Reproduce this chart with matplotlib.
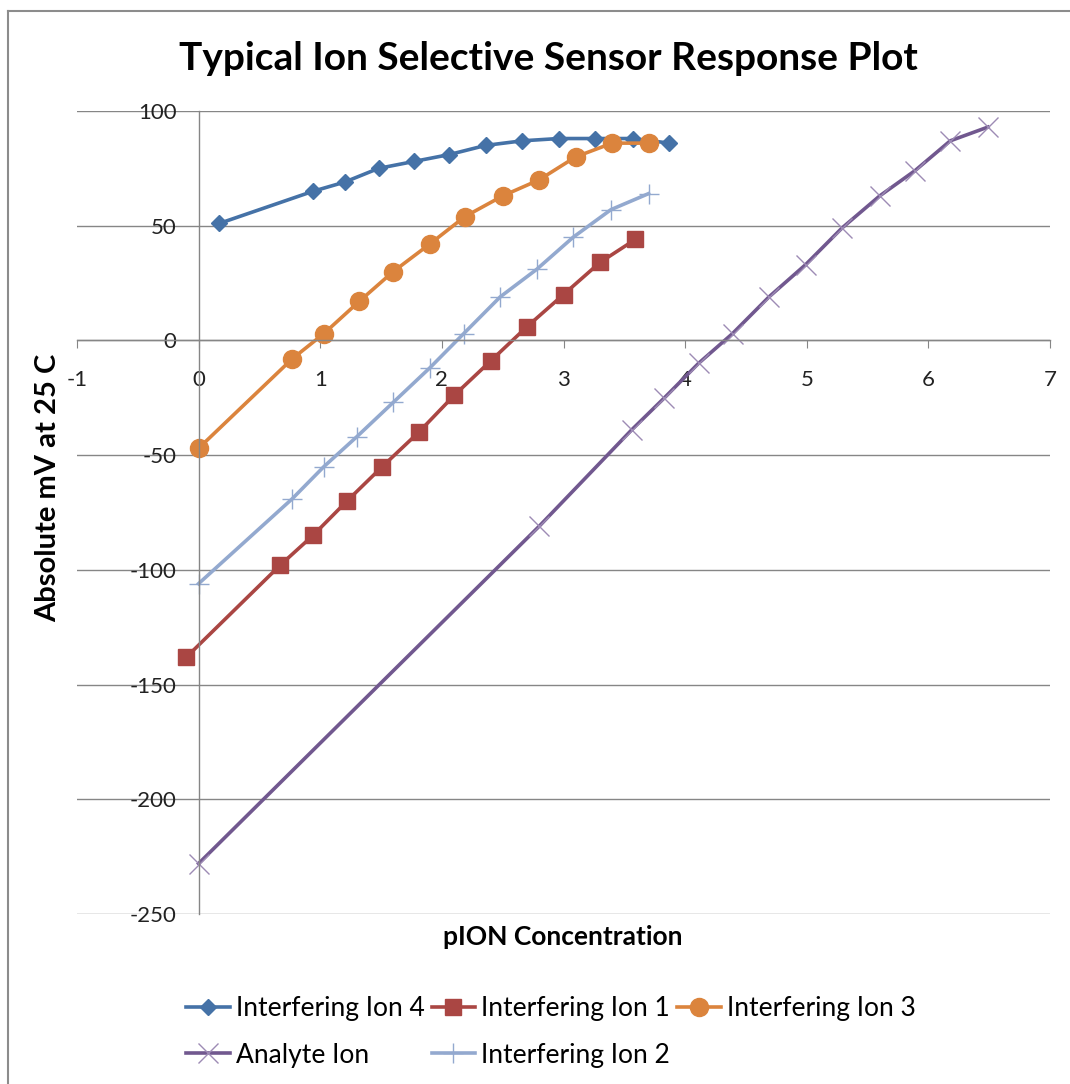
import matplotlib.pyplot as plt
import matplotlib.lines as mlines

plt.rcParams["font.family"] = ["Lato", "DejaVu Sans"]
plt.rcParams["axes.unicode_minus"] = False

# Data (pION, mV)
ion4_x = [0.17, 0.94, 1.20, 1.48, 1.77, 2.06, 2.36, 2.66, 2.96, 3.26, 3.57, 3.87]
ion4_y = [51, 65, 69, 75, 78, 81, 85, 87, 88, 88, 88, 86]

ion1_x = [-0.10, 0.67, 0.94, 1.22, 1.51, 1.81, 2.10, 2.40, 2.70, 3.00, 3.30, 3.59]
ion1_y = [-138, -98, -85, -70, -55, -40, -24, -9, 6, 20, 34, 44]

ion3_x = [0.0, 0.77, 1.03, 1.32, 1.60, 1.90, 2.19, 2.50, 2.80, 3.10, 3.40, 3.70]
ion3_y = [-47, -8, 3, 17, 30, 42, 54, 63, 70, 80, 86, 86]

analyte_x = [0.0, 2.80, 3.56, 3.83, 4.11, 4.39, 4.69, 4.99, 5.29, 5.60, 5.89, 6.18, 6.49]
analyte_y = [-228, -81, -39, -25, -10, 3, 19, 33, 49, 63, 74, 87, 93]

ion2_x = [0.0, 0.77, 1.03, 1.30, 1.60, 1.90, 2.18, 2.48, 2.78, 3.08, 3.39, 3.70]
ion2_y = [-106, -69, -55, -42, -27, -12, 3, 19, 31, 45, 57, 64]

x_ticks = [-1, 0, 1, 2, 3, 4, 5, 6, 7]
y_ticks = [100, 50, 0, -50, -100, -150, -200, -250]

GRID_GRAY = "#868686"


def plot_response():
    fig = plt.figure(figsize=(10.7, 10.84), dpi=100)
    ax = fig.add_axes([77 / 1070, 1 - 914 / 1084, (1050 - 77) / 1070, (914 - 111) / 1084])

    ax.plot(ion4_x, ion4_y, color="#4572A7", lw=2.6, marker="D", ms=8.5, label="Interfering Ion 4")
    ax.plot(ion1_x, ion1_y, color="#AA4643", lw=2.6, marker="s", ms=12, label="Interfering Ion 1")
    ax.plot(ion3_x, ion3_y, color="#DB843D", lw=2.6, marker="o", ms=13, label="Interfering Ion 3")
    ax.plot(analyte_x, analyte_y, color="#71588F", lw=2.6, marker="x", ms=15, mew=1.0,
            mec="#9D8BB5", label="Analyte Ion")
    ax.plot(ion2_x, ion2_y, color="#93A9CF", lw=2.6, marker="+", ms=15, mew=1.0,
            label="Interfering Ion 2")

    ax.set_xlim(-1, 7)
    ax.set_ylim(-250, 100)
    ax.set_xticks(x_ticks)
    ax.set_yticks(y_ticks)

    # axes cross at zero like the original spreadsheet chart
    ax.spines["left"].set_position(("data", 0))
    ax.spines["bottom"].set_position(("data", 0))
    ax.spines["top"].set_visible(False)
    ax.spines["right"].set_visible(False)
    for side in ["left", "bottom"]:
        ax.spines[side].set_color(GRID_GRAY)
        ax.spines[side].set_linewidth(1.0)

    ax.yaxis.grid(True, color=GRID_GRAY, lw=1.0)
    ax.set_axisbelow(True)
    ax.tick_params(axis="x", direction="out", length=6, color=GRID_GRAY, pad=15,
                   labelsize=16, labelcolor="#222222")
    ax.tick_params(axis="y", length=0, pad=16, labelsize=16, labelcolor="#222222")

    fig.text(548 / 1070, 1 - 58 / 1084, "Typical Ion Selective Sensor Response Plot",
             ha="center", va="center", fontsize=28, fontweight="bold")
    fig.text(563 / 1070, 1 - 937 / 1084, "pION Concentration",
             ha="center", va="center", fontsize=19, fontweight="bold")
    fig.text(48 / 1070, 1 - 488 / 1084, "Absolute mV at 25 C", rotation=90,
             ha="center", va="center", fontsize=21, fontweight="bold")

    handles, labels = ax.get_legend_handles_labels()
    order = [0, 3, 1, 4, 2]
    fig.legend([handles[i] for i in order], [labels[i] for i in order],
               ncol=3, loc="upper left", bbox_to_anchor=(186 / 1070, 1 - 996 / 1084),
               frameon=False, fontsize=19, handlelength=1.65, handletextpad=0.23,
               columnspacing=0.27, labelspacing=0.82, borderpad=0, borderaxespad=0,
               numpoints=1)

    # chart frame (left and top edges visible in the crop)
    fig.add_artist(mlines.Line2D([8 / 1070, 8 / 1070], [0, 1 - 11 / 1084],
                                 color="#8c8c8c", lw=1.5))
    fig.add_artist(mlines.Line2D([8 / 1070, 1], [1 - 11 / 1084, 1 - 11 / 1084],
                                 color="#8c8c8c", lw=1.5))

    fig.savefig("out.png", dpi=100)
    plt.close(fig)


def main():
    plot_response()


if __name__ == "__main__":
    main()
